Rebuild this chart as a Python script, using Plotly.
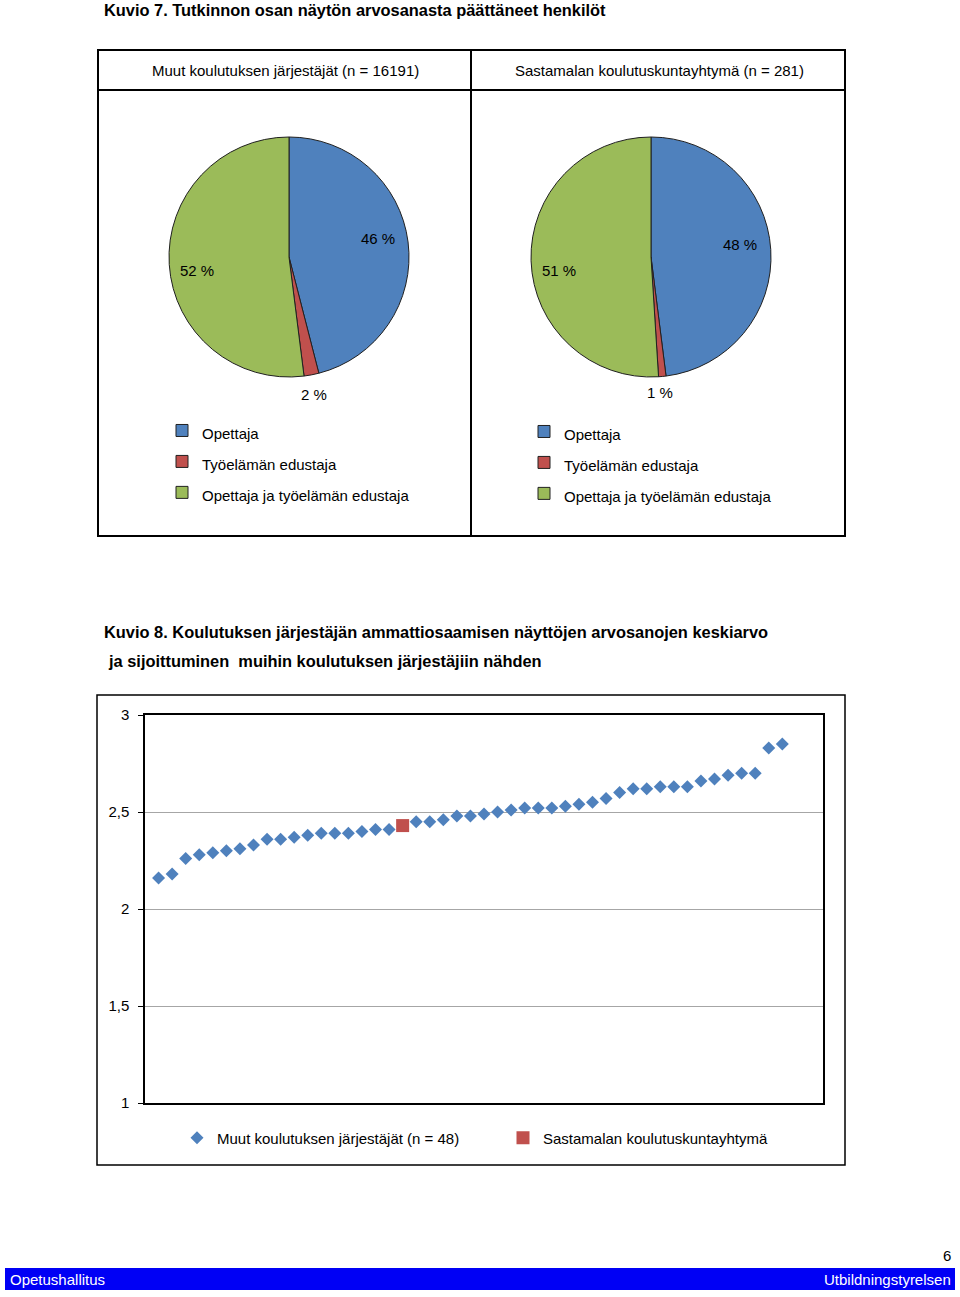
import plotly.graph_objects as go

W, H = 960, 1297

# --- data ---
pie_labels = ["Opettaja", "Työelämän edustaja", "Opettaja ja työelämän edustaja"]
muut_pct = [46, 2, 52]
sastamala_pct = [48, 1, 51]
pie_colors = ["#4F81BD", "#C0504D", "#9BBB59"]

muut_x = list(range(1, 19)) + list(range(20, 48))
muut_y = [2.16, 2.18, 2.26, 2.28, 2.29, 2.30, 2.31, 2.33, 2.36, 2.36, 2.37, 2.38,
          2.39, 2.39, 2.39, 2.40, 2.41, 2.41,
          2.45, 2.45, 2.46, 2.48, 2.48, 2.49, 2.50, 2.51, 2.52, 2.52, 2.52, 2.53,
          2.54, 2.55, 2.57, 2.60, 2.62, 2.62, 2.63, 2.63, 2.63, 2.66, 2.67, 2.69,
          2.70, 2.70, 2.83, 2.85]
sast_x = [19]
sast_y = [2.43]
y_ticks = [1, 1.5, 2, 2.5, 3]

FONT = "Liberation Sans, Arial"


def px(x):
    return x / W


def py(y):
    return 1 - y / H


# legend rows are spaced by the legend font; label text itself kept smaller
def small(s):
    return "<span style='font-size:15px'>" + s + "</span>"


fig = go.Figure()

fig.add_trace(go.Pie(
    labels=[small(l) for l in pie_labels], values=muut_pct, sort=False,
    direction="clockwise", rotation=0, textinfo="none", hoverinfo="label+percent",
    marker=dict(colors=pie_colors, line=dict(color="#202020", width=1)),
    domain=dict(x=[px(169), px(409)], y=[py(377), py(137)]),
    legend="legend", legendgroup="muut"))

fig.add_trace(go.Pie(
    labels=[small(l) for l in pie_labels], values=sastamala_pct, sort=False,
    direction="clockwise", rotation=0, textinfo="none", hoverinfo="label+percent",
    marker=dict(colors=pie_colors, line=dict(color="#202020", width=1)),
    domain=dict(x=[px(531), px(771)], y=[py(377), py(137)]),
    legend="legend2", legendgroup="sastamala"))

fig.add_trace(go.Scatter(
    x=muut_x, y=muut_y, mode="markers", name="Muut koulutuksen järjestäjät (n = 48)",
    marker=dict(symbol="diamond", size=10, color="#4F81BD"), legend="legend3"))
fig.add_trace(go.Scatter(
    x=sast_x, y=sast_y, mode="markers", name="Sastamalan koulutuskuntayhtymä",
    marker=dict(symbol="square", size=13, color="#C0504D"), legend="legend3"))

# percent labels on the pies
pie_label_pos = [
    (muut_pct, [(378, 238), (314, 394), (197, 271)]),
    (sastamala_pct, [(740, 244), (660, 392), (559, 270)]),
]
annotations = []
for vals, pos in pie_label_pos:
    for v, (ax, ay) in zip(vals, pos):
        annotations.append(dict(x=px(ax), y=py(ay), text=f"{v} %", font=dict(size=15)))

annotations += [
    dict(x=px(102), y=py(10), text="<b>Kuvio 7. Tutkinnon osan näytön arvosanasta päättäneet henkilöt</b>",
         xanchor="left", font=dict(size=16.4)),
    dict(x=px(285), y=py(70), text="Muut koulutuksen järjestäjät (n = 16191)", font=dict(size=15)),
    dict(x=px(659), y=py(70), text="Sastamalan koulutuskuntayhtymä (n = 281)", font=dict(size=15)),
    dict(x=px(102), y=py(632),
         text="<b>Kuvio 8. Koulutuksen järjestäjän ammattiosaamisen näyttöjen arvosanojen keskiarvo</b>",
         xanchor="left", font=dict(size=16.4)),
    dict(x=px(106), y=py(661), text="<b>ja sijoittuminen  muihin koulutuksen järjestäjiin nähden</b>",
         xanchor="left", font=dict(size=16.4)),
    dict(x=px(8), y=py(1279), text="Opetushallitus", xanchor="left",
         font=dict(size=15, color="white")),
    dict(x=px(953), y=py(1279), text="Utbildningstyrelsen", xanchor="right",
         font=dict(size=15, color="white")),
    dict(x=px(953), y=py(1255), text="6", xanchor="right", font=dict(size=15)),
]
for a in annotations:
    a.setdefault("xanchor", "center")
    a.update(xref="paper", yref="paper", showarrow=False, yanchor="middle")

shapes = [
    # pie panel frame
    dict(type="rect", x0=px(98), x1=px(845), y0=py(536), y1=py(50), line=dict(color="black", width=2)),
    dict(type="line", x0=px(98), x1=px(845), y0=py(90), y1=py(90), line=dict(color="black", width=2)),
    dict(type="line", x0=px(471), x1=px(471), y0=py(536), y1=py(50), line=dict(color="black", width=2)),
    # scatter frame
    dict(type="rect", x0=px(97), x1=px(845), y0=py(1165), y1=py(695), line=dict(color="black", width=1.5)),
    # footer bar
    dict(type="rect", x0=px(5), x1=px(955), y0=py(1290), y1=py(1268), fillcolor="#0000F5",
         line=dict(width=0), layer="below"),
]
for s in shapes:
    s.update(xref="paper", yref="paper")

leg_common = dict(bgcolor="rgba(0,0,0,0)", font=dict(family=FONT, size=21.5, color="black"),
                  orientation="v", xanchor="left", yanchor="top", tracegroupgap=0)

fig.update_layout(
    width=W, height=H, margin=dict(l=0, r=0, t=0, b=0, autoexpand=False),
    paper_bgcolor="white", plot_bgcolor="white",
    font=dict(family=FONT, size=15, color="black"),
    separators=", ",
    showlegend=True,
    xaxis=dict(domain=[px(145), px(823)], range=[0, 50], showgrid=False, zeroline=False,
               showticklabels=False, ticks="", showline=True, linecolor="black", linewidth=1.5,
               mirror=True, fixedrange=True, automargin=False),
    yaxis=dict(domain=[py(1103), py(715)], range=[1, 3], tickvals=y_ticks,
               showgrid=True, gridcolor="#A6A6A6", gridwidth=1, zeroline=False,
               ticks="outside", ticklen=5, tickcolor="black", ticklabelstandoff=6,
               showline=True, linecolor="black", linewidth=1.5, mirror=True,
               tickfont=dict(size=15), fixedrange=True, automargin=False),
    legend=dict(x=px(162), y=py(410), **leg_common),
    legend2=dict(x=px(524), y=py(411), **leg_common),
    legend3=dict(x=px(177), y=py(1138), xanchor="left", yanchor="middle", orientation="h",
                 bgcolor="rgba(0,0,0,0)", font=dict(family=FONT, size=15, color="black"),
                 entrywidth=281),
    annotations=annotations,
    shapes=shapes,
)

fig.write_html("out.html", config={"displayModeBar": False},
               post_script="document.body.style.margin='0';")
